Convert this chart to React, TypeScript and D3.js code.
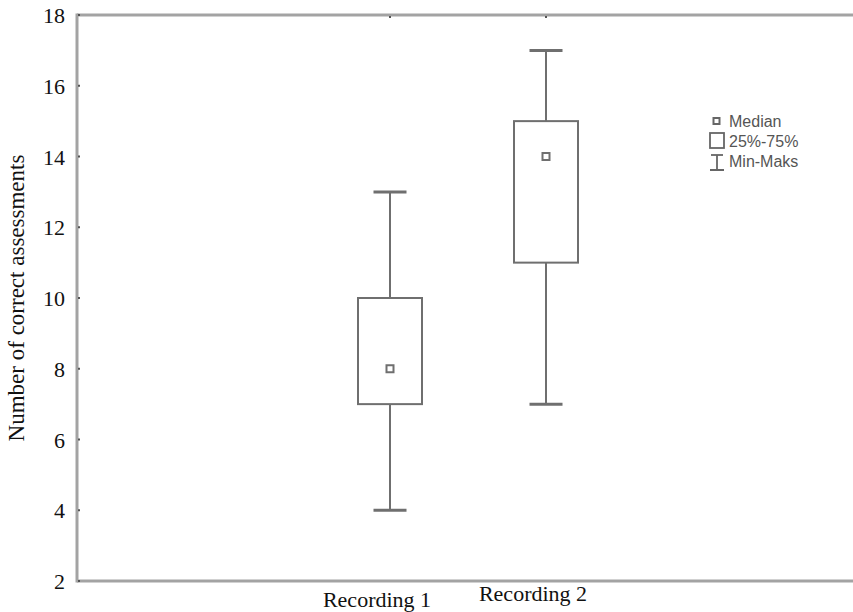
import React from "react";
import * as d3 from "d3";

// Box plot: correct assessments per recording
const categories = ["Recording 1", "Recording 2"];
const minValues = [4, 7];
const q1Values = [7, 11];
const medianValues = [8, 14];
const q3Values = [10, 15];
const maxValues = [13, 17];
const yTicks = [2, 4, 6, 8, 10, 12, 14, 16, 18];
const legendLabels = ["Median", "25%-75%", "Min-Maks"];

const width = 853;
const height = 612;
const margin = { top: 15, right: 0, bottom: 31, left: 77 };
const serif = "'Liberation Serif', 'DejaVu Serif', serif";
const sans = "'Liberation Sans', Arial, sans-serif";

export default function App() {
  const rows = categories.map((c, i) => ({
    cat: c,
    min: minValues[i],
    q1: q1Values[i],
    median: medianValues[i],
    q3: q3Values[i],
    max: maxValues[i],
  }));

  const y = d3
    .scaleLinear()
    .domain([2, 18])
    .range([height - margin.bottom, margin.top]);

  const x = d3.scaleBand().domain(categories).range([312, 624]).padding(0);

  const boxW = 64;
  const capW = 33;
  const boxStroke = "#6f6f6f";
  const frame = "#a3a3a3";
  const left = margin.left;
  const top = margin.top;
  const bottom = height - margin.bottom;

  return (
    <div style={{ position: "fixed", left: 0, top: 0, width, height, background: "#fff" }}>
      <svg width={width} height={height} viewBox={`0 0 ${width} ${height}`}>
        <rect width={width} height={height} fill="#fff" />

        {/* frame */}
        <line x1={left} x2={width} y1={top} y2={top} stroke={frame} strokeWidth={3} />
        <line x1={left} x2={width} y1={bottom} y2={bottom} stroke={frame} strokeWidth={3} />
        <line x1={left} x2={left} y1={top - 1.5} y2={bottom + 1.5} stroke={frame} strokeWidth={3} />

        {/* y ticks */}
        {yTicks.map((t) => (
          <g key={t}>
            <line x1={left + 1} x2={left + 3} y1={y(t)} y2={y(t)} stroke="#555" strokeWidth={2} />
            <text
              x={65}
              y={y(t) + 8}
              textAnchor="end"
              fontFamily={serif}
              fontSize={22}
              fill="#111"
            >
              {t}
            </text>
          </g>
        ))}

        {/* top ticks at category centres */}
        {categories.map((c) => {
          const cx = (x(c) ?? 0) + x.bandwidth() / 2;
          return (
            <line key={c} x1={cx} x2={cx} y1={top + 1} y2={top + 3} stroke="#555" strokeWidth={2} />
          );
        })}

        {/* boxes */}
        {rows.map((d) => {
          const cx = (x(d.cat) ?? 0) + x.bandwidth() / 2;
          return (
            <g key={d.cat} stroke={boxStroke} strokeWidth={2} fill="none">
              <line x1={cx} x2={cx} y1={y(d.max)} y2={y(d.q3)} />
              <line x1={cx} x2={cx} y1={y(d.q1)} y2={y(d.min)} />
              <line x1={cx - capW / 2} x2={cx + capW / 2} y1={y(d.max)} y2={y(d.max)} strokeWidth={3} />
              <line x1={cx - capW / 2} x2={cx + capW / 2} y1={y(d.min)} y2={y(d.min)} strokeWidth={3} />
              <rect
                x={cx - boxW / 2}
                y={y(d.q3)}
                width={boxW}
                height={y(d.q1) - y(d.q3)}
                fill="#fff"
              />
              <rect x={cx - 3.5} y={y(d.median) - 3.5} width={7} height={7} fill="#fff" />
            </g>
          );
        })}

        {/* x labels */}
        {categories.map((c, i) => {
          const cx = (x(c) ?? 0) + x.bandwidth() / 2;
          return (
            <text
              key={c}
              x={cx - 13}
              y={i === 0 ? 607 : 601}
              textAnchor="middle"
              fontFamily={serif}
              fontSize={22}
              fill="#111"
            >
              {c}
            </text>
          );
        })}

        {/* y title */}
        <text
          transform={`translate(24,${(top + bottom) / 2}) rotate(-90)`}
          textAnchor="middle"
          fontFamily={serif}
          fontSize={23}
          fill="#111"
        >
          Number of correct assessments
        </text>

        {/* legend */}
        <g fontFamily={sans} fontSize={16} fill="#555">
          <rect x={713.5} y={118} width={6} height={6} fill="#fff" stroke="#666" strokeWidth={2} />
          <text x={729} y={127}>{legendLabels[0]}</text>
          <rect x={710} y={133} width={14} height={15} fill="#fff" stroke="#666" strokeWidth={1.8} />
          <text x={729} y={147}>{legendLabels[1]}</text>
          <line x1={717} x2={717} y1={155} y2={170} stroke="#666" strokeWidth={1.8} />
          <line x1={711} x2={723} y1={155} y2={155} stroke="#666" strokeWidth={1.8} />
          <line x1={710} x2={724} y1={170} y2={170} stroke="#666" strokeWidth={2} />
          <text x={729} y={167}>{legendLabels[2]}</text>
        </g>
      </svg>
    </div>
  );
}
